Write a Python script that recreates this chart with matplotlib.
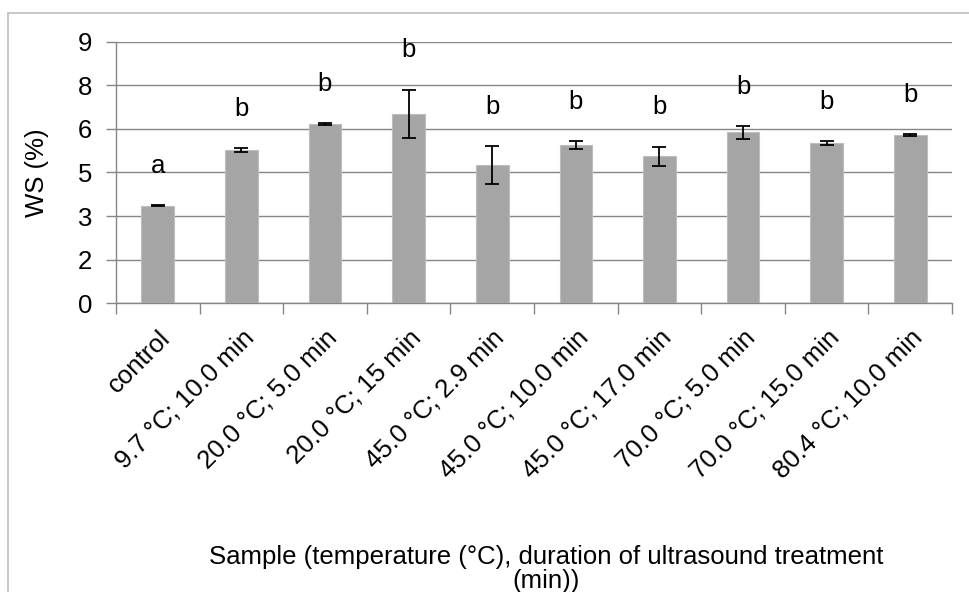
import numpy as np
import matplotlib.pyplot as plt
from matplotlib.patches import Rectangle

plt.rcParams['font.family'] = ['Liberation Sans', 'DejaVu Sans']

################## data #################
samples = ['control', '9.7 °C; 10.0 min', '20.0 °C; 5.0 min', '20.0 °C; 15 min',
           '45.0 °C; 2.9 min', '45.0 °C; 10.0 min', '45.0 °C; 17.0 min',
           '70.0 °C; 5.0 min', '70.0 °C; 15.0 min', '80.4 °C; 10.0 min']
ws_mean = [3.36, 5.27, 6.17, 6.52, 4.75, 5.45, 5.06, 5.88, 5.52, 5.79]
ws_err = [0.02, 0.08, 0.02, 0.83, 0.66, 0.14, 0.33, 0.22, 0.06, 0.02]
groups = ['a', 'b', 'b', 'b', 'b', 'b', 'b', 'b', 'b', 'b']
y_ticks = [0, 1.5, 3, 4.5, 6, 7.5, 9]
y_ticklabels = ['0', '2', '3', '5', '6', '8', '9']

grid_col = '#868686'
fs = 18.5

fig = plt.figure(figsize=(9.69, 5.92), dpi=100)
ax = fig.add_axes([0.1197, 0.4877, 0.8628, 0.4419])

x = np.arange(len(samples))
ax.bar(x, ws_mean, width=0.39, color='#A5A5A5', edgecolor='#BDBDBD', linewidth=0.8, zorder=3)
ax.errorbar(x, ws_mean, yerr=ws_err, fmt='none', ecolor='black', elinewidth=1.3,
            capsize=5, capthick=1.3, zorder=4)

# letters above the bars
for xi, m, e, g in zip(x, ws_mean, ws_err, groups):
    ax.text(xi, m + e + 1.35, g, ha='center', va='center', fontsize=fs)

ax.set_xlim(-0.5, len(samples) - 0.5)
ax.set_ylim(0, 9)
ax.set_yticks(y_ticks)
ax.set_yticklabels(y_ticklabels, fontsize=fs)
ax.yaxis.grid(True, color=grid_col, linewidth=1.0, zorder=0)
ax.set_axisbelow(True)

ax.set_xticks(x)
ax.set_xticklabels(samples, rotation=45, ha='right', rotation_mode='anchor', fontsize=fs)
ax.tick_params(axis='x', which='major', length=0, pad=16)
ax.set_xticks(np.arange(-0.5, len(samples)), minor=True)
ax.tick_params(axis='x', which='minor', length=8, color=grid_col, width=1)
ax.tick_params(axis='y', length=7, color=grid_col, width=1, pad=10)

for s in ['top', 'right']:
    ax.spines[s].set_visible(False)
for s in ['left', 'bottom']:
    ax.spines[s].set_color(grid_col)
    ax.spines[s].set_linewidth(1.0)

ax.set_ylabel('WS (%)', fontsize=fs)
ax.yaxis.set_label_coords(-0.08, 0.5)
fig.text(0.5635, 1 - 545 / 592, 'Sample (temperature (°C), duration of ultrasound treatment\n(min))',
         ha='center', va='top', fontsize=fs, linespacing=1.02)

# chart area frame
fig.patches.append(Rectangle((8 / 969, -0.1), 1.2, 1.1 - 13 / 592, transform=fig.transFigure,
                             fill=False, edgecolor='#BDBDBD', linewidth=1.2))

fig.savefig('out.png', dpi=100)
